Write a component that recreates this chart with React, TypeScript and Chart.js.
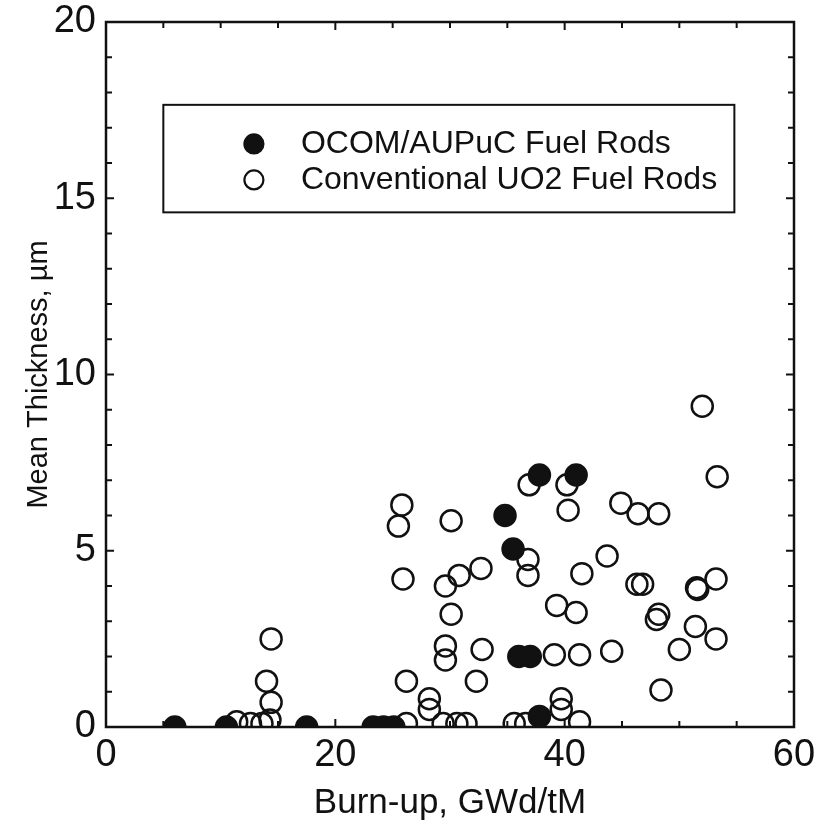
import React, { useEffect, useRef } from "react";
import { Chart, registerables } from "chart.js";

Chart.register(...registerables);

// OCOM/AUPuC fuel rods (filled circles)
const ocomBurnup = [6.0, 10.5, 17.5, 23.3, 24.2, 25.1, 34.8, 35.5, 36.0, 37.0, 37.8, 37.8, 41.0];
const ocomThickness = [0, 0, 0, 0, 0, 0, 6.0, 5.05, 2.0, 2.0, 0.3, 7.15, 7.15];

// Conventional UO2 fuel rods (open circles)
const uo2Burnup = [
  11.4, 12.6, 13.6, 14.3, 14.0, 14.4, 14.4,
  25.8, 25.5, 25.9, 26.2, 26.2,
  28.2, 28.2, 29.4, 30.6, 31.4,
  30.1, 29.6, 30.8, 32.7, 30.1, 29.6, 29.6, 32.8, 32.3,
  36.9, 36.8, 36.8, 35.6, 36.6,
  39.1, 39.3, 39.7, 39.7,
  40.2, 40.3, 41.0, 41.5, 41.3, 41.3,
  43.7, 44.1, 44.9, 46.4, 48.2, 46.3, 46.8, 48.0, 48.2, 48.4,
  50.0, 51.4, 51.5, 51.6, 53.2, 53.2, 52.0, 53.3,
];
const uo2Thickness = [
  0.15, 0.1, 0.1, 0.2, 1.3, 0.7, 2.5,
  6.3, 5.7, 4.2, 1.3, 0.1,
  0.8, 0.5, 0.1, 0.1, 0.1,
  5.85, 4.0, 4.3, 4.5, 3.2, 2.3, 1.9, 2.2, 1.3,
  6.87, 4.75, 4.3, 0.1, 0.1,
  2.05, 3.45, 0.8, 0.5,
  6.87, 6.15, 3.25, 4.35, 2.05, 0.15,
  4.85, 2.15, 6.35, 6.05, 6.05, 4.05, 4.05, 3.05, 3.2, 1.05,
  2.2, 2.85, 3.95, 3.9, 4.2, 2.5, 9.1, 7.1,
];

const seriesLabels = ["OCOM/AUPuC Fuel Rods", "Conventional UO2 Fuel Rods"];
const xTitle = "Burn-up, GWd/tM";
const yTitle = "Mean Thickness, \u00b5m";
const xRange = [0, 60];
const yRange = [0, 20];
const xMajorStep = 20;
const xMinorStep = 5;
const yMajorStep = 5;
const yMinorStep = 1;

const FONT = "'Liberation Sans', Arial, sans-serif";
const INK = "#111";

const framePlugin = {
  id: "frameAndTicks",
  afterDatasetsDraw(chart: any) {
    const { ctx, chartArea } = chart;
    const xs = chart.scales.x;
    const ys = chart.scales.y;
    const { left, right, top, bottom } = chartArea;
    ctx.save();
    ctx.strokeStyle = INK;
    ctx.lineWidth = 2.5;
    ctx.strokeRect(left, top, right - left, bottom - top);
    ctx.lineWidth = 2;
    for (let v = xRange[0]; v <= xRange[1] + 1e-9; v += xMinorStep) {
      const px = xs.getPixelForValue(v);
      const len = v % xMajorStep === 0 ? 8 : 6;
      ctx.beginPath();
      ctx.moveTo(px, bottom);
      ctx.lineTo(px, bottom - len);
      ctx.moveTo(px, top);
      ctx.lineTo(px, top + len);
      ctx.stroke();
    }
    for (let v = yRange[0]; v <= yRange[1] + 1e-9; v += yMinorStep) {
      const py = ys.getPixelForValue(v);
      const len = v % yMajorStep === 0 ? 8 : 6;
      ctx.beginPath();
      ctx.moveTo(left, py);
      ctx.lineTo(left + len, py);
      ctx.moveTo(right, py);
      ctx.lineTo(right - len, py);
      ctx.stroke();
    }
    ctx.restore();
  },
};

// legend box, located in data units of the axes
const legendBox = { x0: 5, x1: 54.8, yTop: 17.65, yBottom: 14.6 };
const legendMarkerX = 12.9;
const legendTextX = 17.0;
const legendRowsY = [16.54, 15.52];

const legendPlugin = {
  id: "insetLegend",
  afterDraw(chart: any) {
    const { ctx } = chart;
    const xs = chart.scales.x;
    const ys = chart.scales.y;
    const l = xs.getPixelForValue(legendBox.x0);
    const r = xs.getPixelForValue(legendBox.x1);
    const t = ys.getPixelForValue(legendBox.yTop);
    const b = ys.getPixelForValue(legendBox.yBottom);
    ctx.save();
    ctx.fillStyle = "#fff";
    ctx.fillRect(l, t, r - l, b - t);
    ctx.strokeStyle = INK;
    ctx.lineWidth = 2;
    ctx.strokeRect(l, t, r - l, b - t);
    const mx = xs.getPixelForValue(legendMarkerX);
    const tx = xs.getPixelForValue(legendTextX);
    seriesLabels.forEach((label, i) => {
      const py = ys.getPixelForValue(legendRowsY[i]);
      ctx.beginPath();
      ctx.arc(mx, py, 9.5, 0, Math.PI * 2);
      ctx.lineWidth = 2.2;
      if (i === 0) {
        ctx.fillStyle = INK;
        ctx.fill();
      }
      ctx.stroke();
      ctx.fillStyle = INK;
      ctx.font = `32px ${FONT}`;
      ctx.textBaseline = "middle";
      ctx.textAlign = "left";
      ctx.fillText(label, tx, py);
    });
    ctx.restore();
  },
};

export default function App() {
  const canvasRef = useRef<HTMLCanvasElement | null>(null);

  useEffect(() => {
    if (!canvasRef.current) return;
    const toPoints = (xs: number[], ys: number[]) => xs.map((x, i) => ({ x, y: ys[i] }));
    const chart = new Chart(canvasRef.current, {
      type: "scatter",
      data: {
        datasets: [
          {
            label: seriesLabels[0],
            data: toPoints(ocomBurnup, ocomThickness),
            pointRadius: 10.5,
            pointBorderWidth: 2.5,
            pointBackgroundColor: INK,
            pointBorderColor: INK,
            clip: 0,
          },
          {
            label: seriesLabels[1],
            data: toPoints(uo2Burnup, uo2Thickness),
            pointRadius: 10.5,
            pointBorderWidth: 2.5,
            pointBackgroundColor: "rgba(0,0,0,0)",
            pointBorderColor: INK,
            clip: 0,
          },
        ],
      },
      options: {
        animation: false,
        responsive: false,
        maintainAspectRatio: false,
        layout: { padding: { left: 0, right: 26, top: 22, bottom: 0 } },
        plugins: { legend: { display: false }, tooltip: { enabled: false } },
        scales: {
          x: {
            type: "linear",
            min: xRange[0],
            max: xRange[1],
            border: { display: false },
            grid: { display: false, drawTicks: false },
            ticks: {
              stepSize: xMajorStep,
              padding: 10,
              color: INK,
              font: { family: FONT, size: 38, lineHeight: 1 },
              maxRotation: 0,
            },
            title: {
              display: true,
              text: xTitle,
              color: INK,
              font: { family: FONT, size: 35 },
              padding: { top: 0, bottom: 12 },
            },
            afterFit(scale: any) {
              scale.height = 109;
              scale.paddingLeft = 0;
              scale.paddingRight = 0;
            },
          },
          y: {
            type: "linear",
            min: yRange[0],
            max: yRange[1],
            border: { display: false },
            grid: { display: false, drawTicks: false },
            ticks: {
              stepSize: yMajorStep,
              padding: 10,
              color: INK,
              font: { family: FONT, size: 38, lineHeight: 1 },
            },
            title: {
              display: true,
              text: yTitle,
              color: INK,
              font: { family: FONT, size: 29 },
              padding: { top: 22, bottom: 0 },
            },
            afterFit(scale: any) {
              scale.width = 106;
              scale.paddingTop = 0;
              scale.paddingBottom = 0;
            },
          },
        },
      },
      plugins: [framePlugin, legendPlugin],
    });
    return () => chart.destroy();
  }, []);

  return (
    <div style={{ position: "fixed", left: 0, top: 0, width: 820, height: 836, background: "#fff" }}>
      <canvas ref={canvasRef} width={820} height={836} style={{ width: 820, height: 836 }} />
    </div>
  );
}
